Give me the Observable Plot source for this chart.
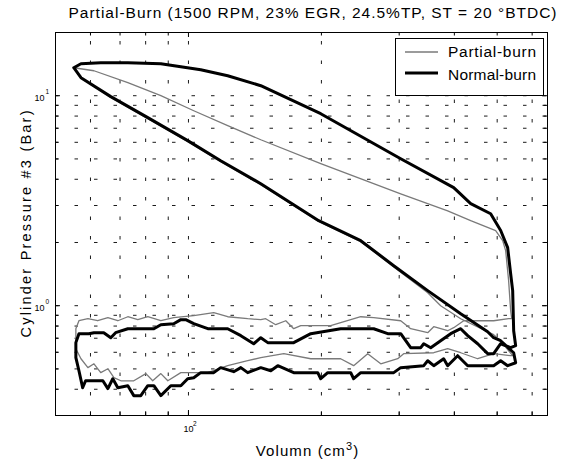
<!DOCTYPE html>
<html>
<head>
<meta charset="utf-8">
<script src="https://cdn.jsdelivr.net/npm/d3@7"></script>
<script src="https://cdn.jsdelivr.net/npm/@observablehq/plot@0.6"></script>
<style>
  html, body { margin: 0; padding: 0; background: #fff; }
  #chart svg { display: block; }
</style>
</head>
<body>
<div id="chart"></div>
<script>
// Labels
const titleText = "Partial-Burn (1500 RPM, 23% EGR, 24.5%TP, ST = 20 °BTDC)";
const xLabelParts = ["Volumn (cm", "3", ")"];
const yLabel = "Cylinder Pressure #3 (Bar)";
const seriesNames = ["Partial-burn", "Normal-burn"];

// Partial-burn cycle: intake, compression, expansion, exhaust (cm³, bar)
const partialV = [
  55.6, 57.1, 59.2, 61.1, 63.3, 65.7, 67.8, 70.3, 75.2, 80.1, 83.0, 86.6, 89.8, 96.1, 110.6, 122.7,
  136.2, 145.8, 164.4, 189.2, 221.1, 236.6, 254.6, 272.5, 297.7, 307.1, 359.2, 386.3, 413.4, 451.7,
  490.9, 536.4,
  542.1, 509.2, 490.9, 413.4, 372.4, 348.1, 291.6, 245.5, 197.2, 145.8, 118.3, 99.6, 80.9, 66.7,
  57.1, 55.0,
  61.1, 72.9, 86.6, 102.8, 122.7, 145.8, 199.3, 302.4, 386.3, 435.5, 496.1, 514.5, 522.6, 530.7,
  536.4, 539.4,
  530.7, 490.9, 419.9, 398.6, 386.3, 359.2, 348.1, 318.5, 302.4, 262.7, 245.5, 209.9, 179.6, 173.1,
  166.1, 157.6, 149.6, 145.8, 136.2, 122.7, 114.1, 102.8, 92.6, 86.6, 80.9, 76.8, 72.9, 69.2,
  65.7, 62.3, 59.2, 56.5, 55.6, 55.6
];
const partialP = [
  0.624, 0.559, 0.507, 0.529, 0.480, 0.501, 0.454, 0.439, 0.439, 0.475, 0.439, 0.475, 0.439, 0.480, 0.480, 0.518,
  0.547, 0.566, 0.591, 0.559, 0.559, 0.518, 0.591, 0.529, 0.559, 0.591, 0.597, 0.624, 0.597, 0.559,
  0.591, 0.578,
  0.578, 0.681, 0.728, 0.867, 1.0, 1.153, 1.53, 2.02, 2.52, 3.77, 4.85, 6.05, 7.78, 9.8,
  12.18, 13.59,
  13.15, 11.53, 10.0, 8.48, 7.20, 6.17, 4.75, 3.41, 2.83, 2.54, 2.28, 2.04, 1.83, 1.32,
  0.946, 0.867,
  0.867, 0.848, 0.848, 0.786, 0.760, 0.794, 0.744, 0.777, 0.848, 0.877, 0.886, 0.803, 0.803, 0.777,
  0.848, 0.812, 0.867, 0.858, 0.867, 0.886, 0.926, 0.896, 0.877, 0.848, 0.886, 0.858, 0.886, 0.848,
  0.877, 0.848, 0.867, 0.848, 0.777, 0.624
];

// Normal-burn cycle: intake, compression, expansion, exhaust (cm³, bar)
const normalV = [
  57.6, 58.5, 64.0, 65.7, 67.4, 69.2, 72.9, 75.2, 78.0, 80.9, 83.5, 86.6, 91.2, 96.1, 99.6, 102.8,
  106.6, 114.1, 118.3, 126.6, 131.4, 136.2, 145.8, 153.6, 159.3, 173.1, 196.2, 199.3, 206.7, 233.0,
  236.6, 245.5, 291.6, 302.4, 341.0, 348.1, 359.2, 378.3, 386.3, 406.9, 428.8, 490.9, 509.2, 528.1,
  550.6,
  544.9, 509.2, 490.9, 475.8, 413.4, 348.1, 291.6, 245.5, 197.2, 145.8, 118.3, 99.6, 80.9, 66.7,
  57.1, 55.0,
  57.1, 63.3, 72.9, 86.6, 106.6, 122.7, 145.8, 199.3, 302.4, 398.6, 435.5, 483.3, 509.2, 528.1,
  536.4, 542.1, 544.9, 550.6,
  536.4, 509.2, 490.9, 475.8, 451.7, 428.8, 413.4, 392.4, 372.4, 353.6, 341.0, 335.7, 318.5, 302.4,
  282.6, 262.7, 221.1, 189.2, 173.1, 151.2, 145.8, 140.5, 131.4, 122.7, 110.6, 102.8, 98.6, 96.1,
  92.6, 86.6, 83.5, 72.9, 68.4, 66.7, 64.3, 61.1, 59.5, 56.5, 55.6, 55.6, 56.5, 57.6
];
const normalP = [
  0.407, 0.439, 0.439, 0.403, 0.449, 0.407, 0.416, 0.373, 0.373, 0.416, 0.416, 0.373, 0.416, 0.416, 0.449, 0.454,
  0.480, 0.480, 0.507, 0.485, 0.507, 0.480, 0.507, 0.490, 0.518, 0.480, 0.480, 0.449, 0.480, 0.480,
  0.449, 0.480, 0.480, 0.507, 0.518, 0.547, 0.518, 0.559, 0.518, 0.578, 0.518, 0.518, 0.547, 0.518,
  0.535,
  0.597, 0.681, 0.704, 0.752, 0.916, 1.18, 1.55, 2.04, 2.54, 3.81, 4.90, 6.11, 7.86, 9.9,
  12.18, 13.59,
  14.20, 14.36, 14.36, 14.20, 13.30, 12.45, 11.16, 8.21, 5.01, 3.65, 3.06, 2.74, 2.28, 1.89,
  1.42, 1.18, 0.760, 0.645,
  0.631, 0.659, 0.591, 0.591, 0.659, 0.720, 0.777, 0.736, 0.681, 0.631, 0.659, 0.631, 0.631, 0.736,
  0.736, 0.777, 0.777, 0.736, 0.667, 0.667, 0.704, 0.659, 0.720, 0.777, 0.777, 0.821, 0.858, 0.858,
  0.821, 0.812, 0.777, 0.777, 0.744, 0.704, 0.744, 0.744, 0.736, 0.736, 0.667, 0.566, 0.490, 0.407
];

// Axis ticks (log scales)
const xMajorTicks = [100];
const xMinorTicks = [60, 70, 80, 90, 200, 300, 400, 500, 600];
const yMajorTicks = [1, 10];
const yMinorTicks = [0.4, 0.5, 0.6, 0.7, 0.8, 0.9, 2, 3, 4, 5, 6, 7, 8, 9];

const rows = (vs, ps) => vs.map((v, i) => ({v, p: ps[i]}));
const partial = rows(partialV, partialP);
const normal = rows(normalV, normalP);

const W = 564, H = 459;
const mL = 55, mR = 17, mT = 32, mB = 44;
const frameW = W - mL - mR, frameH = H - mT - mB;
const font = "'Liberation Sans', Arial, Helvetica, sans-serif";
const dash = "3.5,16";
const majorLen = 5, minorLen = 3.5;
const grayLine = "#7a7a7a";

const xAll = [...xMinorTicks, ...xMajorTicks];
const yAll = [...yMinorTicks, ...yMajorTicks];

// inward tick marks along bottom/top (x) or left/right (y)
const xTicks = (ticks, len) => [
  Plot.ruleX(ticks, {x: d => d, stroke: "#000", insetTop: frameH - len}),
  Plot.ruleX(ticks, {x: d => d, stroke: "#000", insetBottom: frameH - len})
];
const yTicks = (ticks, len) => [
  Plot.ruleY(ticks, {y: d => d, stroke: "#000", insetRight: frameW - len}),
  Plot.ruleY(ticks, {y: d => d, stroke: "#000", insetLeft: frameW - len})
];

const chart = Plot.plot({
  width: W,
  height: H,
  marginLeft: mL,
  marginRight: mR,
  marginTop: mT,
  marginBottom: mB,
  style: {fontFamily: font, background: "#fff", color: "#000"},
  x: {type: "log", domain: [50, 650], axis: null},
  y: {type: "log", domain: [0.3, 20], axis: null},
  marks: [
    // dashed grid at every decade subdivision
    Plot.ruleX(xAll, {x: d => d, y1: 0.3, y2: 20, stroke: "#000", strokeWidth: 0.9, strokeDasharray: dash}),
    Plot.ruleY(yAll, {y: d => d, x1: 50, x2: 650, stroke: "#000", strokeWidth: 0.9, strokeDasharray: dash}),
    ...xTicks(xMinorTicks, minorLen),
    ...xTicks(xMajorTicks, majorLen),
    ...yTicks(yMinorTicks, minorLen),
    ...yTicks(yMajorTicks, majorLen),
    // cycles
    Plot.line(partial, {x: "v", y: "p", stroke: grayLine, strokeWidth: 1.3, strokeLinejoin: "round"}),
    Plot.line(normal, {x: "v", y: "p", stroke: "#000", strokeWidth: 3, strokeLinejoin: "round"}),
    Plot.frame({stroke: "#000", strokeWidth: 1}),
    // decade tick labels
    Plot.text(xMajorTicks, {x: d => d, frameAnchor: "bottom", text: () => "10", textAnchor: "middle", dy: 16, fontSize: 9}),
    Plot.text(xMajorTicks, {x: d => d, frameAnchor: "bottom", text: d => String(Math.log10(d)), textAnchor: "start", dx: 4.5, dy: 10, fontSize: 6.5}),
    Plot.text(yMajorTicks, {y: d => d, frameAnchor: "left", text: () => "10", textAnchor: "end", dx: -11, dy: 2, fontSize: 9}),
    Plot.text(yMajorTicks, {y: d => d, frameAnchor: "left", text: d => String(Math.round(Math.log10(d))), textAnchor: "start", dx: -10, dy: -4, fontSize: 6.5}),
    // title and axis labels
    Plot.text([titleText], {text: d => d, frameAnchor: "top", textAnchor: "middle", lineAnchor: "bottom", dx: 11, dy: -15, fontSize: 15.5}),
    Plot.text([xLabelParts.join("")], {text: d => d, frameAnchor: "bottom", textAnchor: "middle", lineAnchor: "bottom", dx: 6, dy: 40, fontSize: 15}),
    Plot.text([yLabel], {text: d => d, frameAnchor: "left", textAnchor: "middle", lineAnchor: "middle", rotate: -90, dx: -29, fontSize: 14.5})
  ]
});

const svg = d3.select(chart);

// spread the label lettering to the widths used in the figure
const spread = {[titleText]: 488, [yLabel]: 227};
svg.selectAll("text").each(function () {
  const el = d3.select(this);
  const t = this.textContent;
  if (spread[t]) el.attr("textLength", spread[t]).attr("lengthAdjust", "spacing");
  if (t === xLabelParts.join("")) {
    // raise the exponent of cm3
    el.text(null).attr("letter-spacing", 1.1);
    el.append("tspan").text(xLabelParts[0]);
    el.append("tspan").attr("dy", -6).attr("font-size", 11).text(xLabelParts[1]);
    el.append("tspan").attr("dy", 6).text(xLabelParts[2]);
  }
});

// legend box in the upper-right corner of the axes
const lg = svg.append("g").attr("font-family", font).attr("font-size", 15.5).attr("text-anchor", "start");
lg.append("rect").attr("x", 395.5).attr("y", 38.5).attr("width", 148).attr("height", 57)
  .attr("fill", "#fff").attr("stroke", "#000").attr("stroke-width", 1);
const legendRows = [
  {name: seriesNames[0], stroke: grayLine, width: 1.3, y: 52, base: 57, len: 88},
  {name: seriesNames[1], stroke: "#000", width: 3, y: 73, base: 79.5, len: 88}
];
legendRows.forEach(r => {
  lg.append("line").attr("x1", 405).attr("x2", 438).attr("y1", r.y).attr("y2", r.y)
    .attr("stroke", r.stroke).attr("stroke-width", r.width);
  lg.append("text").attr("x", 448).attr("y", r.base)
    .attr("textLength", r.len).attr("lengthAdjust", "spacing").text(r.name);
});

document.getElementById("chart").appendChild(chart);
</script>
</body>
</html>
